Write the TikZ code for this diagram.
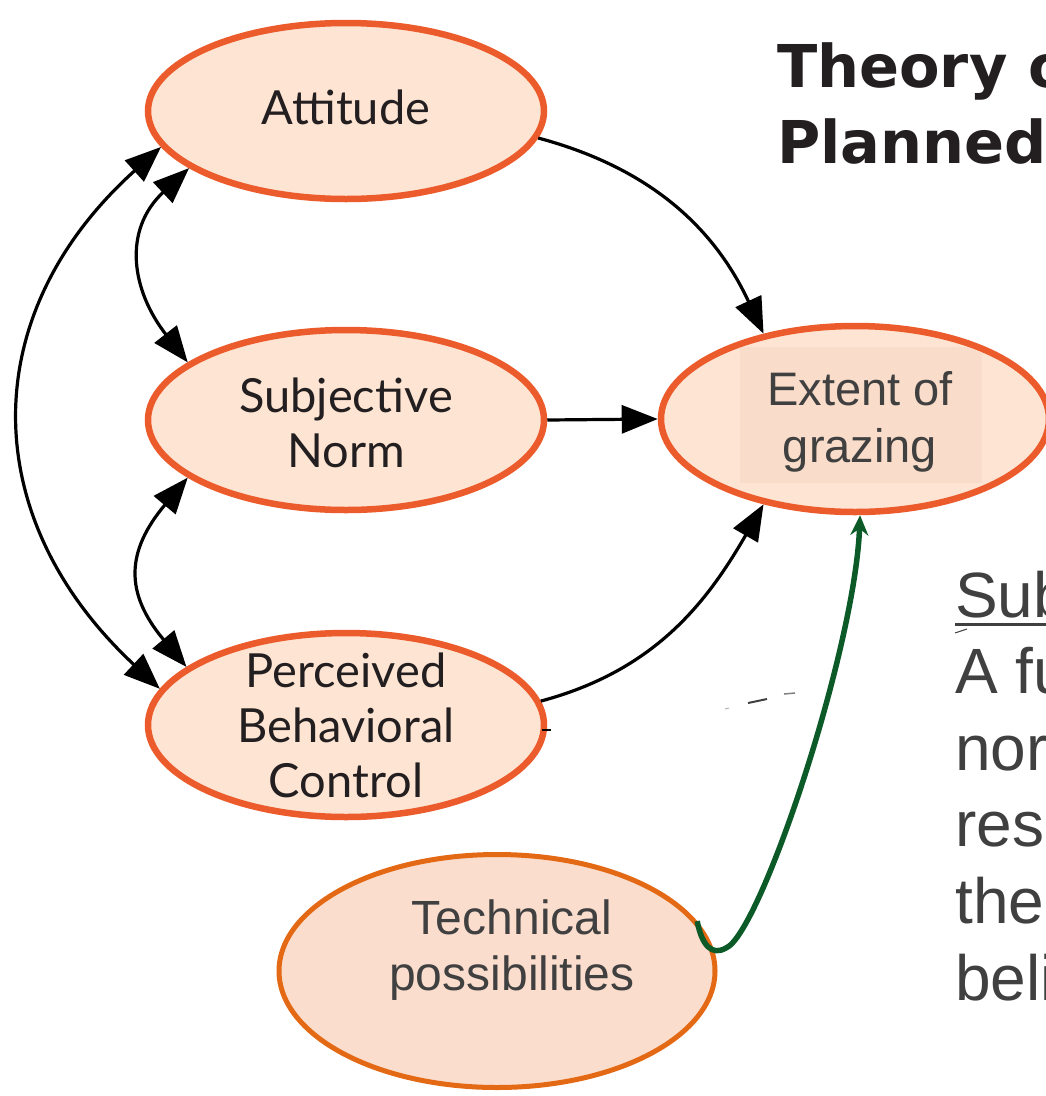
\documentclass[tikz,border=0pt]{standalone}
\usepackage{fontspec}
\setmainfont{Liberation Sans}
\newfontfamily\gillfont{Lato}
\newfontfamily\headfont{DejaVu Sans}
\usetikzlibrary{shapes.geometric, arrows.meta}

\definecolor{ovalline}{RGB}{236,91,43}
\definecolor{ovalfill}{RGB}{253,228,211}
\definecolor{techline}{RGB}{228,105,20}
\definecolor{techfill}{RGB}{250,221,205}
\definecolor{boxfill}{RGB}{249,220,202}
\definecolor{txtgray}{RGB}{64,64,64}
\definecolor{txtblack}{RGB}{35,31,32}
\definecolor{arrowgreen}{RGB}{12,90,40}

\begin{document}
\begin{tikzpicture}
[x=1pt, y=1pt,
oval/.style={ellipse, draw=ovalline, fill=ovalfill, line width=6.5pt, inner sep=0pt, minimum width=396pt, minimum height=180pt},
techoval/.style={ellipse, draw=techline, fill=techfill, line width=5pt, inner sep=0pt, minimum width=436pt, minimum height=233pt},
gill/.style={font=\gillfont\fontsize{47}{55}\selectfont, text=txtblack, align=center, inner sep=0pt},
arial/.style={font=\fontsize{47}{57}\selectfont, text=txtgray, align=center, inner sep=0pt},
side/.style={font=\fontsize{64}{77}\selectfont, text=txtgray, inner sep=0pt, anchor=base west},
head/.style={font=\headfont\bfseries\fontsize{59}{76}\selectfont, text=txtblack, inner sep=0pt, anchor=base west},
link/.style={line width=3.2pt, -{Triangle[length=36pt,width=28pt]}},
twoway/.style={line width=3.2pt, {Triangle[length=36pt,width=28pt]}-{Triangle[length=36pt,width=28pt]}},
greenlink/.style={draw=arrowgreen, line width=5.5pt, -{Stealth[length=20pt,width=18pt]}},
]
\useasboundingbox (0,0) rectangle (1046,-1096);
\clip (0,0) rectangle (1046,-1096);

% the ovals
\node[oval, minimum height=176pt] (att) at (346,-111) {};
\node[oval] (sn) at (346,-420) {};
\node[oval, minimum height=184pt] (pbc) at (346,-725) {};
\node[oval, minimum width=388pt, minimum height=186pt] (ext) at (855,-419) {};
\node[techoval] (tech) at (497,-971) {};
\begin{scope}
  \clip (ext.center) ellipse (190pt and 89pt);
  \fill[boxfill] (740,-347) rectangle (982,-483);
\end{scope}

% labels
\node[gill] (atttxt) at (346,-107) {Attitude};
\node[gill] (sntxt) at (346,-423) {Subjective\\Norm};
\node[gill] (pbctxt) at (346,-725) {Perceived\\Behavioral\\Control};
\node[arial] (exttxt) at (860,-422) {Extent of\\grazing};
\node[arial, font=\fontsize{48}{56}\selectfont] (techtxt) at (512,-950) {Technical\\possibilities};

% title and side text
\node[head] (title1) at (777,-87) {Theory of};
\node[head] (title2) at (777,-163) {Planned Behavior};
\node[side] (sub) at (955,-617) {Subjective norm:};
\draw[txtgray, line width=3pt] ([yshift=-7pt]sub.base west) -- ([yshift=-7pt]sub.base east);
\foreach \line [count=\i] in {A function, normative, respect, the, beliefs}
  \node[side] (body\i) at (955,-617-76.6*\i) {\line};

% arrows into the outcome
\draw[link] (att.-8) to[out=-15, in=115] (ext.137);
\draw[link] (sn.east) -- (ext.west);
\draw[link] (pbc.7) to[out=15, in=-120] (ext.-137);

% correlations
\draw[twoway] (att.191) to[out=222, in=137, looseness=1.18] (pbc.169);
\draw[twoway] (att.200) to[out=223, in=128, looseness=1.2] (sn.160);
\draw[twoway] (sn.200) to[out=230, in=130, looseness=1.3] (pbc.160);

% technical possibilities
\draw[greenlink] (tech.14) .. controls (702,-946) and (712,-956) .. (726,-948)
  .. controls (760,-934) and (855,-650) .. (ext.-87);

% stray marks
\draw[line width=2pt] (542,-730) -- (551,-730);
\draw[line width=1pt, black!30] (725,-709) -- (729,-708);
\draw[line width=2pt, black!75] (748,-703) -- (767,-699);
\draw[line width=1.5pt, black!50] (784,-694) -- (795,-693);
\draw[line width=1pt, txtgray] (955,-633) -- (967,-629);
\end{tikzpicture}
\end{document}
